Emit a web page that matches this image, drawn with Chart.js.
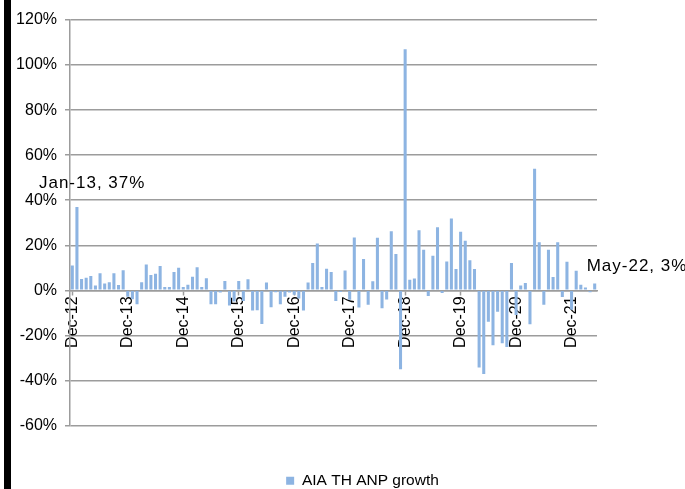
<!DOCTYPE html>
<html>
<head>
<meta charset="utf-8">
<script src="https://cdn.jsdelivr.net/npm/chart.js@4/dist/chart.umd.min.js"></script>
<style>
  html, body { margin: 0; padding: 0; background: #fff; }
  #c { display: block; }
</style>
</head>
<body>
<canvas id="c" width="685" height="489"></canvas>
<script>
// Monthly categories, Dec-12 to May-22
const months = [
  'Dec-12',
  'Jan-13','Feb-13','Mar-13','Apr-13','May-13','Jun-13','Jul-13','Aug-13','Sep-13','Oct-13','Nov-13','Dec-13',
  'Jan-14','Feb-14','Mar-14','Apr-14','May-14','Jun-14','Jul-14','Aug-14','Sep-14','Oct-14','Nov-14','Dec-14',
  'Jan-15','Feb-15','Mar-15','Apr-15','May-15','Jun-15','Jul-15','Aug-15','Sep-15','Oct-15','Nov-15','Dec-15',
  'Jan-16','Feb-16','Mar-16','Apr-16','May-16','Jun-16','Jul-16','Aug-16','Sep-16','Oct-16','Nov-16','Dec-16',
  'Jan-17','Feb-17','Mar-17','Apr-17','May-17','Jun-17','Jul-17','Aug-17','Sep-17','Oct-17','Nov-17','Dec-17',
  'Jan-18','Feb-18','Mar-18','Apr-18','May-18','Jun-18','Jul-18','Aug-18','Sep-18','Oct-18','Nov-18','Dec-18',
  'Jan-19','Feb-19','Mar-19','Apr-19','May-19','Jun-19','Jul-19','Aug-19','Sep-19','Oct-19','Nov-19','Dec-19',
  'Jan-20','Feb-20','Mar-20','Apr-20','May-20','Jun-20','Jul-20','Aug-20','Sep-20','Oct-20','Nov-20','Dec-20',
  'Jan-21','Feb-21','Mar-21','Apr-21','May-21','Jun-21','Jul-21','Aug-21','Sep-21','Oct-21','Nov-21','Dec-21',
  'Jan-22','Feb-22','Mar-22','Apr-22','May-22'
];

// AIA Thailand ANP growth, % year on year
const anpGrowth = [
  11,
  37, 5, 5.6, 6.4, 2.2, 7.6, 3, 3.6, 7.6, 2.4, 8.9, -2.8,
  -4, -6.2, 3.6, 11.5, 6.8, 7.4, 10.8, 1.5, 1.5, 8.1, 10, 1.5,
  2.5, 6, 10.2, 1.5, 5.4, -6.2, -6.2, -1, 4.1, -6.7, -5, 4.1,
  -4.7, 4.9, -9, -8.8, -14.9, 3.5, -7.5, -0.9, -6.2, -2.9, -1, -2,
  -3.6, -9, 3.5, 12.1, 20.8, 1.5, 9.6, 8.1, -4.7, -0.7, 8.8, -4.2,
  23.4, -7.6, 13.9, -6.4, 4, 23.3, -7.9, -4.1, 26.2, 16.1, -35, 107,
  4.7, 5.3, 26.7, 18, -2.5, 15.4, 28, -1.2, 12.8, 31.9, 9.5, 26,
  22, 13.3, 9.5, -34.3, -37.1, -14, -24.4, -9.5, -23.5, -25.2, 12.1, -11,
  2.1, 3.3, -15, 54, 21.3, -6.4, 18, 5.9, 21.3, -3, 12.7, -8.6,
  8.7, 2.5, 1.3, -0.9, 3
];

const seriesName = 'AIA TH ANP growth';
const yTickValues = [-60, -40, -20, 0, 20, 40, 60, 80, 100, 120];
const labelEvery = 12;          // one axis label per December
const calloutIndexes = [1, 113];

const FONT = '"Liberation Sans", Arial, sans-serif';
const GRID = '#9c9c9c';
const BAR = '#8DB4E2';

// Offsets of the value callouts from the top of their bar
const calloutOffsets = { 1: { dx: -38, dy: -19 }, 113: { dx: -8, dy: -12.5 } };

const pagePlugin = {
  id: 'page',
  beforeDraw(chart) {
    const c = chart.ctx;
    c.save();
    c.fillStyle = '#fff';
    c.fillRect(0, 0, chart.width, chart.height);
    c.fillStyle = '#000';
    c.fillRect(4, 0, 7, chart.height);
    c.restore();
  }
};

const calloutPlugin = {
  id: 'callouts',
  afterDatasetsDraw(chart) {
    const meta = chart.getDatasetMeta(0);
    const c = chart.ctx;
    c.save();
    c.font = '17px ' + FONT;
    if ('letterSpacing' in c) c.letterSpacing = '1px';
    c.fillStyle = '#000';
    c.textAlign = 'left';
    c.textBaseline = 'alphabetic';
    calloutIndexes.forEach(i => {
      const bar = meta.data[i];
      const off = calloutOffsets[i];
      const text = months[i] + ', ' + Math.round(anpGrowth[i]) + '%';
      c.fillText(text, bar.x + off.dx, bar.y + off.dy);
    });
    c.restore();
  }
};

new Chart(document.getElementById('c'), {
  type: 'bar',
  data: {
    labels: months,
    datasets: [{
      label: seriesName,
      data: anpGrowth,
      backgroundColor: BAR,
      borderWidth: 0,
      barPercentage: 0.66,
      categoryPercentage: 1,
      xAxisID: 'x',
      yAxisID: 'y'
    }]
  },
  options: {
    responsive: false,
    devicePixelRatio: 1,
    animation: false,
    // negative right padding centres the legend under the plot as drawn
    layout: { padding: { left: 0, right: -40, top: 20, bottom: -9.5 } },
    scales: {
      x: {
        type: 'category',
        position: { y: 0 },
        offset: true,
        grid: {
          display: true,
          drawOnChartArea: false,
          drawTicks: true,
          tickLength: 4,
          offset: false,
          tickWidth: 1.5,
          tickColor: ctx => (ctx.index % labelEvery === 0 ? GRID : 'rgba(0,0,0,0)')
        },
        border: { display: true, color: GRID, width: 1.5 },
        ticks: {
          autoSkip: false,
          minRotation: 90,
          maxRotation: 90,
          padding: 2,
          color: '#000',
          font: { family: FONT, size: 16 },
          callback: function (v, i) { return i % labelEvery === 0 ? this.getLabelForValue(v) : ''; }
        }
      },
      y: {
        min: yTickValues[0],
        max: yTickValues[yTickValues.length - 1],
        position: 'left',
        afterFit: s => { s.width = 70; },
        afterBuildTicks: s => { s.ticks = yTickValues.map(v => ({ value: v })); },
        grid: { color: GRID, lineWidth: 1.5, tickLength: 5, drawTicks: true },
        border: { display: true, color: GRID, width: 1.5 },
        ticks: {
          padding: 8,
          color: '#000',
          font: { family: FONT, size: 16 },
          callback: v => v + '%'
        }
      },
      yR: {
        type: 'linear',
        position: 'right',
        grid: { display: false },
        border: { display: false },
        ticks: { display: false },
        afterFit: s => { s.width = 128; }
      },
      xB: {
        type: 'linear',
        position: 'bottom',
        grid: { display: false },
        border: { display: false },
        ticks: { display: false },
        afterFit: s => { s.height = 43.5; }
      }
    },
    plugins: {
      legend: {
        position: 'bottom',
        labels: {
          boxWidth: 8,
          boxHeight: 8,
          padding: 4,
          color: '#000',
          font: { family: FONT, size: 15.5 }
        }
      },
      tooltip: { enabled: false }
    }
  },
  plugins: [pagePlugin, calloutPlugin]
});
</script>
</body>
</html>
